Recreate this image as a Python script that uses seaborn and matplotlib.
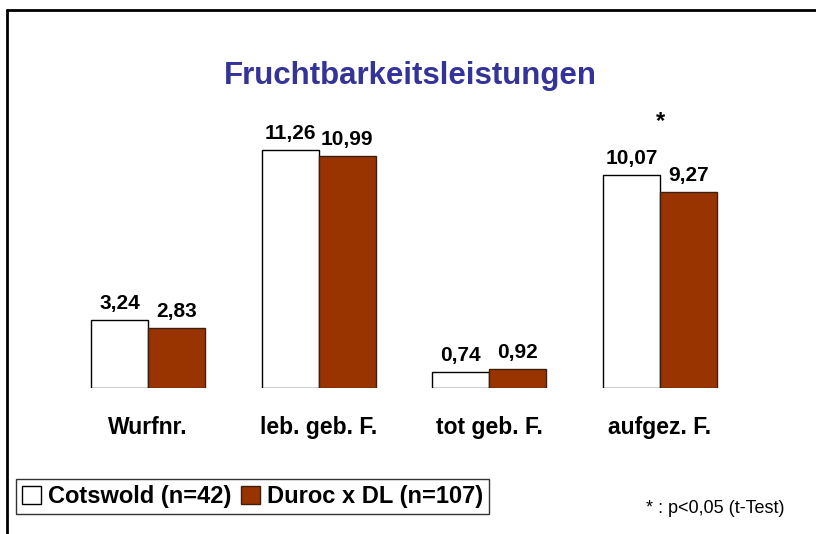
import matplotlib
matplotlib.use("Agg")
import pandas as pd
import matplotlib.pyplot as plt
import seaborn as sns
from matplotlib.lines import Line2D
from matplotlib.patches import Patch

# data
categories = ["Wurfnr.", "leb. geb. F.", "tot geb. F.", "aufgez. F."]
cotswold = [3.24, 11.26, 0.74, 10.07]
duroc = [2.83, 10.99, 0.92, 9.27]
groups = ["Cotswold (n=42)", "Duroc x DL (n=107)"]
significant = [False, False, False, True]

colors = {groups[0]: "white", groups[1]: "#993300"}
edges = {groups[0]: "black", groups[1]: "#3a2010"}


def fmt(v):
    return f"{v:.2f}".replace(".", ",")


def main():
    df = pd.DataFrame({
        "Merkmal": categories * 2,
        "Gruppe": [groups[0]] * 4 + [groups[1]] * 4,
        "Wert": cotswold + duroc,
    })

    sns.set_style("white")
    plt.rcParams["font.family"] = ["Liberation Sans", "DejaVu Sans"]
    plt.rcParams["text.color"] = "black"
    plt.rcParams["xtick.color"] = "black"

    fig = plt.figure(figsize=(8.16, 5.34), dpi=100)
    ax = fig.add_axes([0.0768, 0.2734, 0.8366, 0.475])

    sns.barplot(data=df, x="Merkmal", y="Wert", hue="Gruppe", order=categories,
                hue_order=groups, palette=colors, saturation=1, width=0.667, gap=0,
                linewidth=1, legend=False, ax=ax)

    for cont, g in zip(ax.containers, groups):
        for bar in cont:
            bar.set_edgecolor(edges[g])
            bar.set_linewidth(1)
        ax.bar_label(cont, labels=[fmt(v) for v in cont.datavalues], padding=5,
                     fontsize=15, fontweight="bold", color="black")

    for i, sig in enumerate(significant):
        if sig:
            top = max(cotswold[i], duroc[i])
            ax.annotate("*", (i, top), xytext=(0, 30), textcoords="offset points",
                        ha="center", va="bottom", fontsize=17, fontweight="bold",
                        annotation_clip=False)

    ax.set_xlim(-0.5, 3.5)
    ax.set_ylim(0, 12)
    sns.despine(ax=ax, left=True, bottom=True)
    ax.set_yticks([])
    ax.set_xlabel("")
    ax.set_ylabel("")
    ax.tick_params(axis="x", length=0, pad=20)
    ax.set_xticks(range(len(categories)))
    ax.set_xticklabels(categories, fontsize=16.5, fontweight="bold")

    fig.text(0.503, 0.858, "Fruchtbarkeitsleistungen", ha="center", va="center",
             fontsize=22.5, fontweight="bold", color="#333399")

    handles = [Patch(facecolor=colors[g], edgecolor=edges[g], linewidth=1) for g in groups]
    leg = fig.legend(handles, groups, loc="lower left", bbox_to_anchor=(0.02, 0.037),
                     ncol=2, frameon=True, fancybox=False, handlelength=0.8,
                     handleheight=0.8, handletextpad=0.3, columnspacing=0.4,
                     borderpad=0.25, borderaxespad=0,
                     prop={"size": 17, "weight": "bold"})
    leg.get_frame().set_edgecolor("black")
    leg.get_frame().set_linewidth(1)

    fig.text(0.962, 0.048, "* : p<0,05 (t-Test)", ha="right", va="center", fontsize=13)

    # outer frame
    fig.add_artist(Line2D([0.009, 1.0], [0.981, 0.981], color="black", lw=2,
                          transform=fig.transFigure))
    fig.add_artist(Line2D([0.009, 0.009], [0.0, 0.981], color="black", lw=2,
                          transform=fig.transFigure))

    fig.savefig("out.png", dpi=100, facecolor="white")
    plt.close(fig)


if __name__ == "__main__":
    main()
